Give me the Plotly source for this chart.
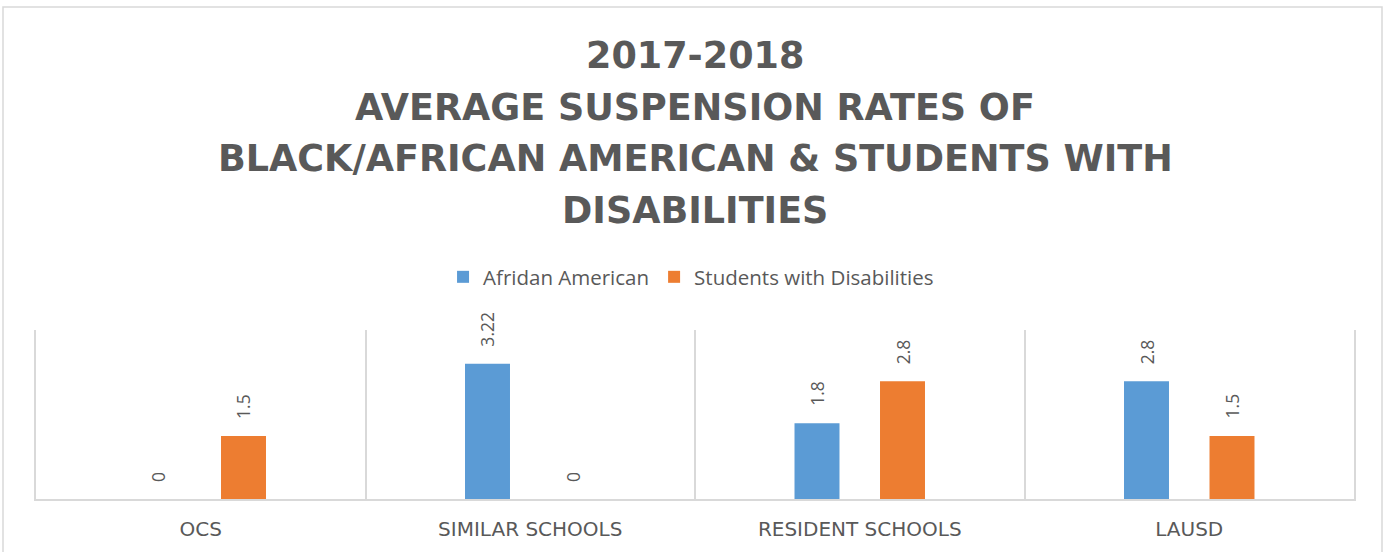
import plotly.graph_objects as go

categories = ["OCS", "SIMILAR SCHOOLS", "RESIDENT SCHOOLS", "LAUSD"]
african_american = [0, 3.22, 1.8, 2.8]
students_disabilities = [1.5, 0, 2.8, 1.5]
series_names = ["Afridan American", "Students with Disabilities"]
title_lines = [
    "2017-2018",
    "AVERAGE SUSPENSION RATES OF",
    "BLACK/AFRICAN AMERICAN & STUDENTS WITH",
    "DISABILITIES",
]

W, H = 1390, 552
L, R, T, B = 36, 36, 330, 53
plot_h = H - T - B
GRAY = "#595959"
LINE = "#d9d9d9"
FONT = "Open Sans"
TITLE_FONT = "DejaVu Sans"
TICK_FONT = "DejaVu Sans"

def py(pix):
    # pixel y (from top) to paper y
    return (H - B - pix) / plot_h

def px(pix):
    return (pix - L) / (W - L - R)

fig = go.Figure()
colors = ["#5B9BD5", "#ED7D31"]
series = [african_american, students_disabilities]
for name, vals, c in zip(series_names, series, colors):
    fig.add_trace(go.Bar(x=categories, y=vals, name=name, marker_color=c,
                         marker_line_width=0))

annotations = []
shift = 42.75
for k, vals in enumerate(series):
    for cat, v in zip(categories, vals):
        annotations.append(dict(
            x=cat, y=v, xref="x", yref="y", text=f"{v:g}", showarrow=False,
            textangle=-90, xanchor="center", yanchor="bottom",
            xshift=-shift if k == 0 else shift, yshift=15,
            font=dict(family=FONT, size=17.5, color=GRAY)))

title_y = [55, 107, 158, 210]
for line, yy in zip(title_lines, title_y):
    annotations.append(dict(
        x=0.5, y=py(yy), xref="paper", yref="paper", text=f"<b>{line}</b>",
        showarrow=False, xanchor="center", yanchor="middle",
        font=dict(family=TITLE_FONT, size=36.5, color=GRAY)))

fig.update_layout(
    width=W, height=H,
    margin=dict(l=L, r=R, t=T, b=B),
    paper_bgcolor="white", plot_bgcolor="white",
    barmode="group", bargap=0.481, bargroupgap=0.474,
    showlegend=True,
    legend=dict(orientation="h", x=0.497, xanchor="center", y=py(277), yanchor="middle",
                font=dict(family=FONT, size=20.5, color=GRAY)),
    annotations=annotations,
    shapes=[dict(type="rect", xref="paper", yref="paper",
                 x0=px(3), x1=px(1382), y0=py(7), y1=py(570),
                 line=dict(color=LINE, width=1.5), fillcolor="rgba(0,0,0,0)", layer="below")],
    xaxis=dict(type="category", tickson="boundaries", showgrid=True, gridcolor=LINE,
               gridwidth=1.5, ticks="", showline=True, linecolor=LINE, linewidth=1.5,
               ticklabelstandoff=11,
               tickfont=dict(family=TICK_FONT, size=20, color=GRAY)),
    yaxis=dict(range=[0, 4.02], showgrid=False, zeroline=False, showticklabels=False,
               ticks="", showline=True, mirror=True, linecolor=LINE, linewidth=1.5),
    font=dict(family=FONT, color=GRAY),
)

fig.write_html("out.html")
